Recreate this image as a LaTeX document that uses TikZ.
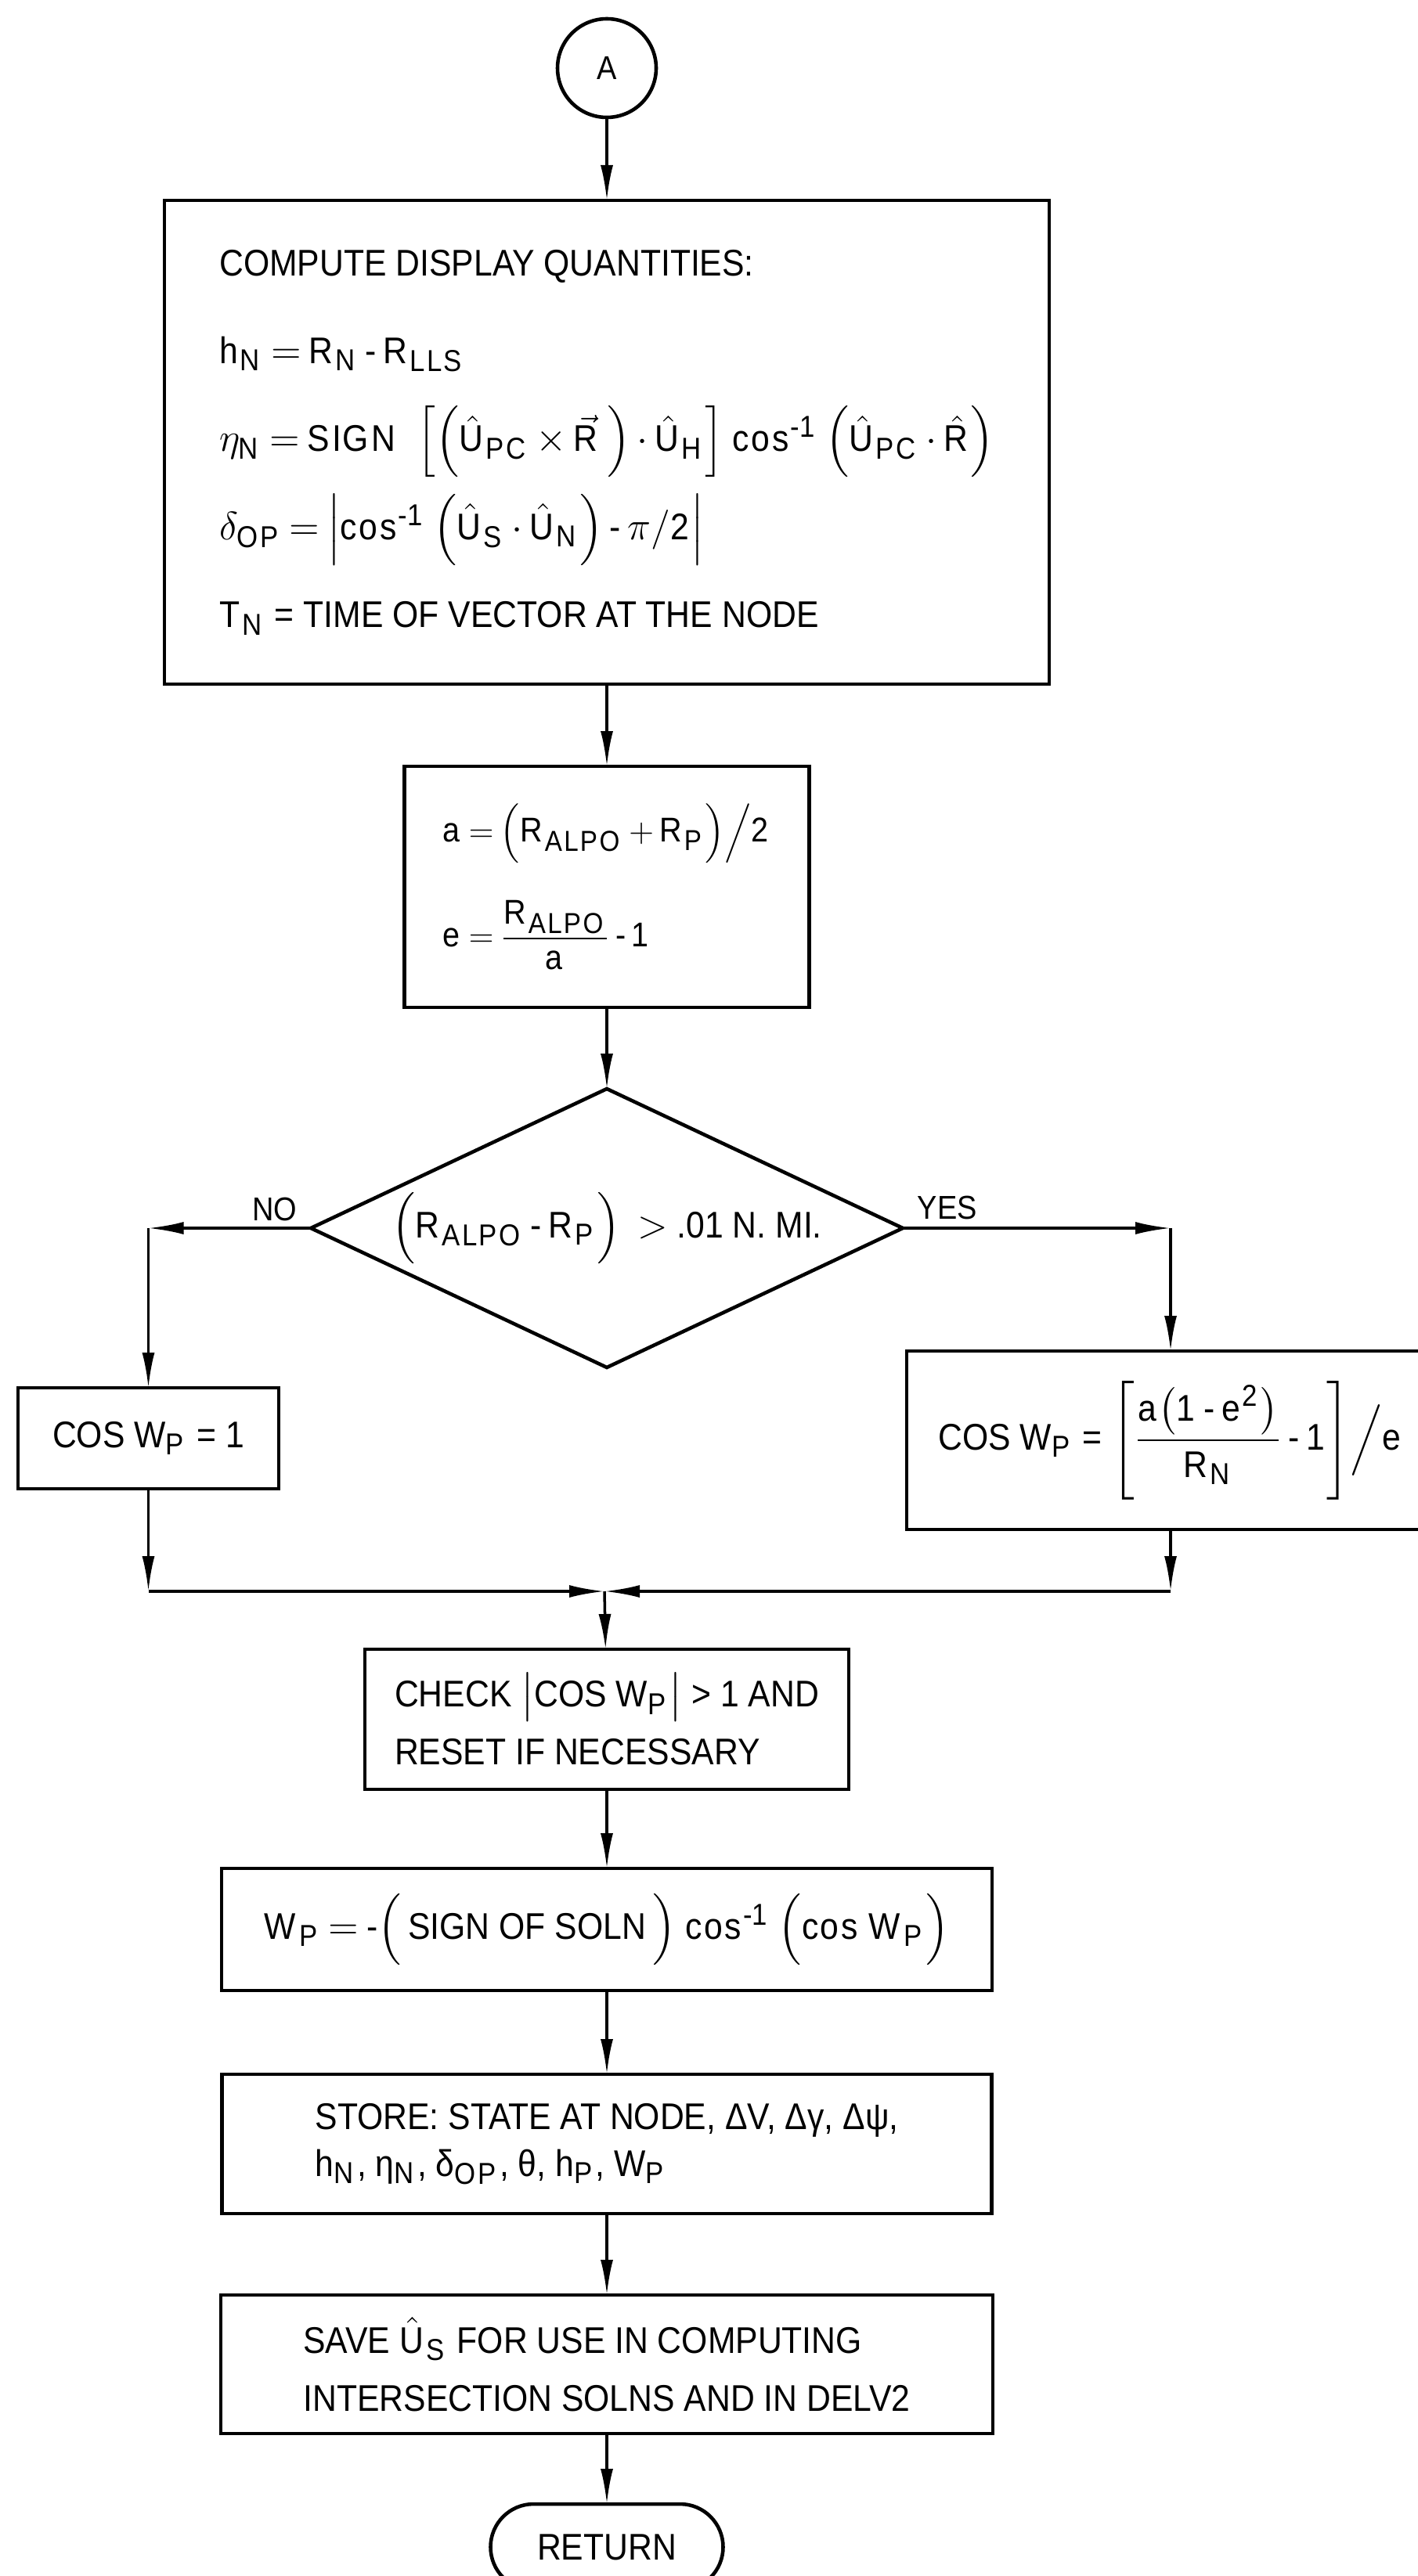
\documentclass[tikz,border=0pt]{standalone}
\usepackage{amsmath}
\usepackage{fontspec}
\setmainfont[FakeStretch=0.9]{Liberation Sans}
\DeclareMathSizes{13.5}{13.5}{11}{9}
\DeclareMathSizes{12.5}{12.5}{10.5}{8.5}
\usepackage{tikz}
\usetikzlibrary{positioning,arrows.meta,shapes.geometric,calc}
\thickmuskip=3.5mu plus 2mu
\medmuskip=3mu plus 1mu minus 2mu
\newcommand{\uhat}[1]{\hat{\mathrm{U}}_{\mathrm{#1}}}
\newcommand{\mminus}{\mathbin{\text{-}}}
\newcommand{\icos}{\mathrm{cos}^{\text{-1}}}
\tikzset{
box/.style={
draw,
line width=1.3pt,
inner sep=0pt,
outer sep=0pt,
align=left,
font=\fontsize{13.5}{17}\selectfont
},
decision/.style={
draw,
diamond,
aspect=2.1,
line width=1.3pt,
inner sep=0pt,
outer sep=0pt,
minimum width=7.56cm,
minimum height=3.56cm,
font=\fontsize{13.5}{17}\selectfont
},
connector/.style={
draw,
circle,
line width=1.3pt,
minimum size=1.26cm,
inner sep=0pt,
outer sep=0pt,
font=\fontsize{12}{14}\selectfont
},
terminal/.style={
draw,
rounded corners=0.55cm,
line width=1.3pt,
outer sep=0pt,
minimum width=2.97cm,
minimum height=1.10cm,
font=\fontsize{13.5}{17}\selectfont
},
lbl/.style={
inner sep=0pt,
font=\fontsize{12}{14}\selectfont
},
arrow/.style={
-{Latex[length=4.5mm,width=1.6mm]},
line width=1pt
}
}

\begin{document}
\begin{tikzpicture}
\useasboundingbox (0,0) rectangle (18.10,-32.91);
\node[connector] (A) at (7.75,-0.87) {A};
\node[box,minimum width=11.30cm,minimum height=6.18cm,font=\fontsize{13.5}{32}\selectfont,below=1.06cm of A] (disp) {COMPUTE DISPLAY QUANTITIES:\\
$\mathrm{h_N = R_N}\mminus\mathrm{R_{LLS}}$\\
$\eta_{\mathrm{N}} = \mathrm{SIGN}\ \ \Bigl[\Bigl(\uhat{PC}\times\vec{\mathrm{R}}\,\Bigr)\cdot\uhat{H}\Bigr]\ \icos\ \Bigl(\uhat{PC}\cdot\hat{\mathrm{R}}\Bigr)$\\
$\delta_{\mathrm{OP}} = \Bigl|\icos\ \Bigl(\uhat{S}\cdot\uhat{N}\Bigr)\mminus\pi/\mathrm{2}\Bigr|$\\
$\mathrm{T_N}$ = TIME OF VECTOR AT THE NODE};
\node[box,minimum width=5.17cm,minimum height=3.08cm,font=\fontsize{12.5}{38}\selectfont,below=1.05cm of disp] (ellip) {$\mathrm{a} = \Bigl(\mathrm{R_{ALPO} + R_P}\Bigr)\Big/\mathrm{2}$\\
$\mathrm{e} = \dfrac{\mathrm{R_{ALPO}}}{\mathrm{a}}\mminus\mathrm{1}$};
\node[decision,below=1.04cm of ellip] (test) {$\Bigl(\mathrm{R_{ALPO}}\mminus\mathrm{R_P}\Bigr)\ >\ $.01 N. MI.};
\node[lbl,above left=0.08cm and 0.17cm of test.west] {NO};
\node[lbl,above right=0.10cm and 0.18cm of test.east] {YES};
\node[box,minimum width=3.33cm,minimum height=1.29cm] (cosone) at (1.895,-18.375) {COS W$_{\mathrm{P}}$ = 1};
\node[box,minimum width=6.74cm,minimum height=2.28cm] (cosw) at (14.95,-18.40) {COS W$_{\mathrm{P}}$ = $\Biggl[\dfrac{\mathrm{a}\bigl(\mathrm{1}\mminus\mathrm{e}^{\mathrm{2}}\bigr)}{\mathrm{R_N}}\mminus\mathrm{1}\Biggr]\Big/\mathrm{e}$};
\coordinate (join) at (7.72,-20.33);
\node[box,minimum width=6.18cm,minimum height=1.79cm,font=\fontsize{13.5}{21}\selectfont,below=3.60cm of test] (chk) {CHECK $\bigl|$COS W$_{\mathrm{P}}\bigr|$ > 1 AND\\RESET IF NECESSARY};
\node[box,minimum width=9.84cm,minimum height=1.56cm,below=1.01cm of chk] (wp) {$\mathrm{W_P} = \text{-}\Bigl(\,$SIGN OF SOLN$\,\Bigr)\ \icos\ \Bigl(\mathrm{cos\ W_P}\Bigr)$};
\node[box,minimum width=9.83cm,minimum height=1.78cm,below=1.07cm of wp] (store) {STORE: STATE AT NODE, ΔV, Δγ, Δψ,\\h$_{\mathrm{N}}$, η$_{\mathrm{N}}$, δ$_{\mathrm{OP}}$, θ, h$_{\mathrm{P}}$, W$_{\mathrm{P}}$};
\node[box,minimum width=9.86cm,minimum height=1.77cm,font=\fontsize{13.5}{21}\selectfont,below=1.04cm of store] (save) {SAVE $\uhat{S}$ FOR USE IN COMPUTING\\INTERSECTION SOLNS AND IN DELV2};
\node[terminal,below=0.90cm of save] (ret) {RETURN};

\coordinate (noturn) at (cosone.north |- test.west);
\coordinate (yesturn) at (cosw.north |- test.east);
\coordinate (nodown) at (cosone.south |- join);
\coordinate (yesdown) at (cosw.south |- join);

\foreach \x/\y in {A/disp,disp/ellip,ellip/test,join/chk,chk/wp,wp/store,store/save,save/ret}
\draw[arrow](\x)--(\y);
\foreach \x/\y in {test.west/noturn,noturn/cosone,cosone/nodown,nodown/join,test.east/yesturn,yesturn/cosw,cosw/yesdown,yesdown/join}
\draw[arrow](\x)--(\y);
\end{tikzpicture}
\end{document}
